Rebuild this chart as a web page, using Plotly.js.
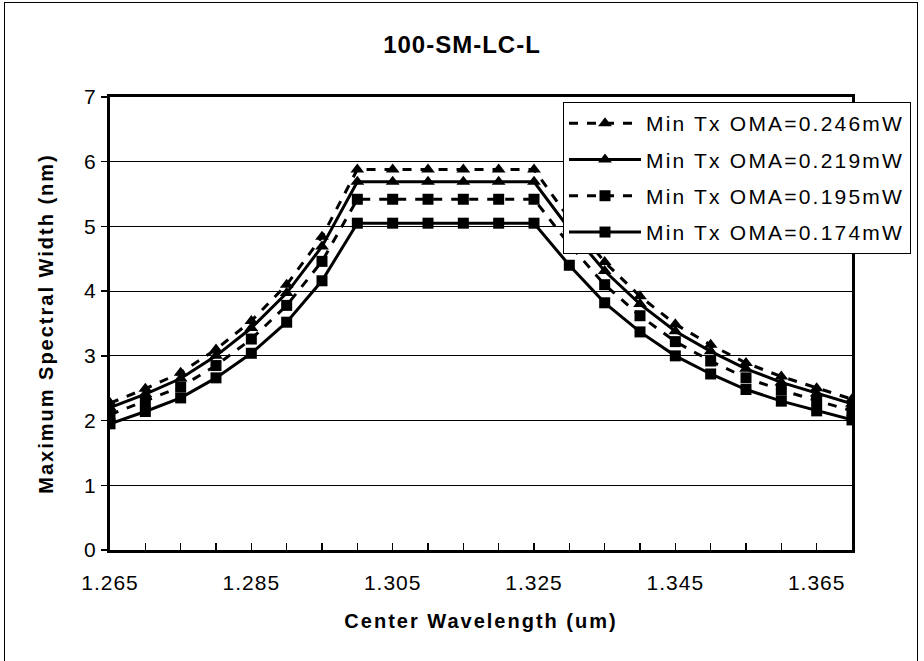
<!DOCTYPE html>
<html><head><meta charset="utf-8">
<script src="https://cdn.plot.ly/plotly-3.0.1.min.js"></script>
<style>
body{margin:0;background:#fff}
#wrap{position:relative;width:924px;height:661px;overflow:hidden}
#chart{width:924px;height:661px}
#frame{position:absolute;left:4px;top:2px;width:912px;height:700px;border:1px solid #000;pointer-events:none}
text.legendtext{letter-spacing:2.2px}
text.xtitle, text.ytitle{letter-spacing:2px}
text.gtitle{letter-spacing:1px}
.xtick text, .ytick text{letter-spacing:1px}
</style></head><body>
<div id="wrap"><div id="chart"></div><div id="frame"></div></div>
<script>
// Center wavelength (um) categories
const wavelength = [1.265, 1.27, 1.275, 1.28, 1.285, 1.29, 1.295, 1.30, 1.305, 1.31, 1.315, 1.32, 1.325, 1.33, 1.335, 1.34, 1.345, 1.35, 1.355, 1.36, 1.365, 1.37];
const xTickLabels = ["1.265", "", "", "", "1.285", "", "", "", "1.305", "", "", "", "1.325", "", "", "", "1.345", "", "", "", "1.365", ""];
const yTickVals = [0, 1, 2, 3, 4, 5, 6, 7];

const seriesNames = ["Min Tx OMA=0.246mW", "Min Tx OMA=0.219mW", "Min Tx OMA=0.195mW", "Min Tx OMA=0.174mW"];

// Maximum spectral width (nm)
const oma246 = [2.27, 2.49, 2.74, 3.10, 3.54, 4.10, 4.84, 5.88, 5.88, 5.88, 5.88, 5.88, 5.88, 5.12, 4.45, 3.92, 3.49, 3.17, 2.89, 2.68, 2.50, 2.33];
const oma219 = [2.20, 2.41, 2.65, 3.00, 3.43, 3.97, 4.69, 5.69, 5.69, 5.69, 5.69, 5.69, 5.69, 4.96, 4.31, 3.80, 3.38, 3.07, 2.80, 2.59, 2.42, 2.26];
const oma195 = [2.09, 2.30, 2.52, 2.85, 3.26, 3.78, 4.46, 5.42, 5.42, 5.42, 5.42, 5.42, 5.42, 4.72, 4.10, 3.62, 3.22, 2.92, 2.66, 2.47, 2.31, 2.15];
const oma174 = [1.95, 2.14, 2.35, 2.66, 3.04, 3.52, 4.16, 5.05, 5.05, 5.05, 5.05, 5.05, 5.05, 4.40, 3.82, 3.37, 3.00, 2.72, 2.48, 2.30, 2.15, 2.01];

const seriesValues = [oma246, oma219, oma195, oma174];
const seriesDash = ["dash", "solid", "dash", "solid"];
const seriesSymbol = ["triangle-up", "triangle-up", "square", "square"];

const FONT = "Liberation Sans, Arial, sans-serif";

const traces = seriesValues.map((vals, i) => ({
  type: "scatter",
  mode: "lines+markers",
  x: wavelength,
  y: vals,
  name: seriesNames[i],
  legendgroup: "g" + i,
  line: {color: "#000", width: 3, dash: seriesDash[i]},
  marker: {color: "#000", symbol: seriesSymbol[i], size: seriesSymbol[i] === "square" ? 11 : 12}
}));

const layout = {
  width: 924, height: 661,
  paper_bgcolor: "#fff", plot_bgcolor: "#fff",
  margin: {l: 110, r: 72, t: 97, b: 111},
  font: {family: FONT, color: "#000", size: 20},
  title: {text: "<b>100-SM-LC-L</b>", font: {family: FONT, size: 24, color: "#000"},
          x: 0.5, xref: "container", xanchor: "center", y: 1 - 45 / 661, yref: "container", yanchor: "middle"},
  showlegend: true,
  legend: {
    x: 0.6105, y: 0.989, xanchor: "left", yanchor: "top",
    bgcolor: "#fff", bordercolor: "#000", borderwidth: 1,
    font: {family: FONT, size: 21, color: "#000"},
    traceorder: "grouped", tracegroupgap: 6,
    itemwidth: 72
  },
  xaxis: {
    range: [1.265, 1.37],
    tickmode: "array", tickvals: wavelength, ticktext: xTickLabels,
    ticks: "inside", ticklen: 7, tickwidth: 1.5, tickcolor: "#000",
    ticklabelstandoff: 12,
    tickfont: {family: FONT, size: 21, color: "#000"},
    showline: true, linecolor: "#000", linewidth: 3, mirror: true,
    showgrid: false, zeroline: false,
    title: {text: "<b>Center Wavelength (um)</b>", font: {family: FONT, size: 20, color: "#000"}, standoff: 21}
  },
  yaxis: {
    range: [0, 7],
    tickmode: "array", tickvals: yTickVals,
    ticks: "outside", ticklen: 6, tickwidth: 1.5, tickcolor: "#000",
    tickfont: {family: FONT, size: 21, color: "#000"},
    showline: true, linecolor: "#000", linewidth: 3, mirror: true,
    showgrid: true, gridcolor: "#000", gridwidth: 1, zeroline: false,
    title: {text: "<b>Maximum Spectral Width (nm)</b>", font: {family: FONT, size: 20, color: "#000"}, standoff: 26}
  }
};

Plotly.newPlot("chart", traces, layout, {displayModeBar: false, staticPlot: true});
</script>
</body></html>
